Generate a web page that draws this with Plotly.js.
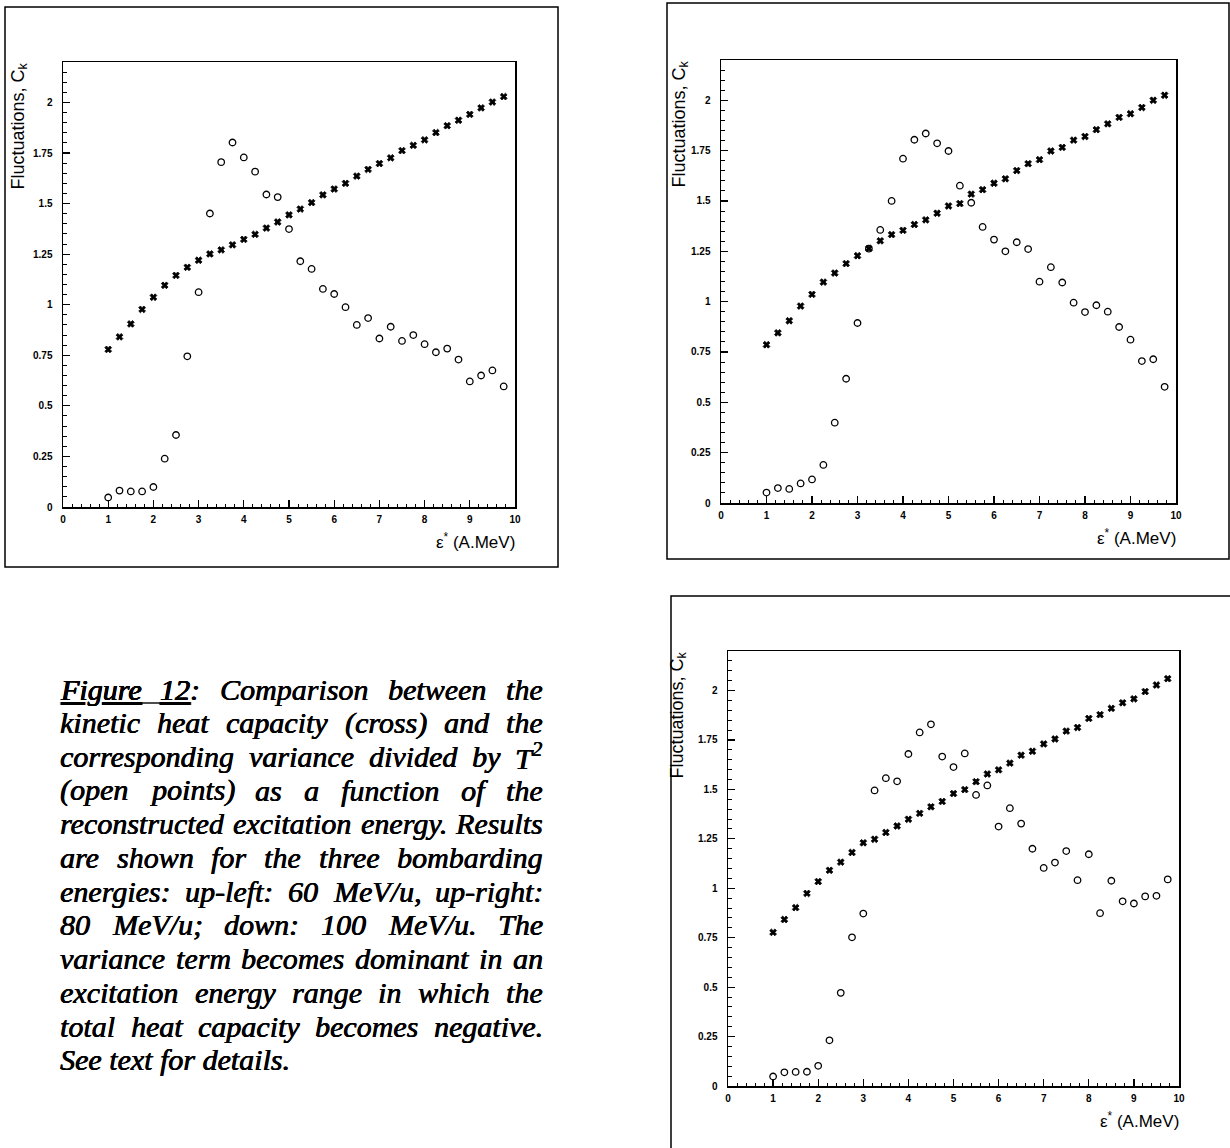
<!DOCTYPE html>
<html><head><meta charset="utf-8">
<script src="https://cdn.plot.ly/plotly-3.0.1.min.js"></script>
<style>html,body{margin:0;padding:0;background:#fff}</style>
</head><body><div id="chart" style="width:1230px;height:1148px"></div>
<script>
// ---- data ----
const energy = [1,1.25,1.5,1.75,2,2.25,2.5,2.75,3,3.25,3.5,3.75,4,4.25,4.5,4.75,5,5.25,5.5,5.75,6,6.25,6.5,6.75,7,7.25,7.5,7.75,8,8.25,8.5,8.75,9,9.25,9.5,9.75];

// 60 MeV/u (up-left)
const kinetic60  = [0.779,0.841,0.905,0.977,1.037,1.096,1.145,1.185,1.220,1.251,1.271,1.296,1.323,1.348,1.379,1.409,1.444,1.473,1.505,1.543,1.572,1.600,1.636,1.669,1.698,1.726,1.762,1.788,1.815,1.851,1.885,1.912,1.941,1.973,2.002,2.029];
const variance60 = [0.047,0.081,0.077,0.077,0.099,0.239,0.356,0.745,1.062,1.451,1.705,1.802,1.728,1.658,1.545,1.532,1.374,1.215,1.177,1.078,1.053,0.988,0.900,0.934,0.833,0.891,0.821,0.850,0.805,0.765,0.783,0.729,0.621,0.650,0.675,0.596];

// 80 MeV/u (up-right)
const kinetic80  = [0.786,0.845,0.905,0.978,1.036,1.097,1.142,1.189,1.228,1.264,1.302,1.333,1.354,1.383,1.406,1.439,1.475,1.487,1.534,1.556,1.588,1.610,1.651,1.685,1.705,1.748,1.766,1.802,1.820,1.854,1.883,1.915,1.933,1.964,2.000,2.025];
const variance80 = [0.052,0.074,0.070,0.097,0.117,0.189,0.399,0.617,0.894,1.263,1.356,1.500,1.710,1.804,1.835,1.786,1.748,1.576,1.491,1.371,1.308,1.250,1.295,1.261,1.099,1.171,1.095,0.995,0.948,0.982,0.950,0.874,0.811,0.705,0.714,0.577];

// 100 MeV/u (down)
const kinetic100  = [0.777,0.842,0.902,0.974,1.034,1.091,1.132,1.181,1.230,1.248,1.282,1.315,1.349,1.379,1.412,1.439,1.479,1.499,1.539,1.578,1.599,1.633,1.673,1.693,1.730,1.755,1.795,1.813,1.859,1.878,1.910,1.938,1.958,1.995,2.028,2.060];
const variance100 = [0.048,0.069,0.071,0.072,0.102,0.231,0.471,0.752,0.872,1.495,1.557,1.541,1.679,1.788,1.829,1.666,1.613,1.682,1.472,1.520,1.312,1.405,1.327,1.200,1.103,1.130,1.188,1.041,1.172,0.874,1.038,0.934,0.923,0.959,0.962,1.045];

const yTitle = 'Fluctuations, C<sub>k</sub>';
const xTitle = 'ε<sup>*</sup> (A.MeV)';

const captionLines = [
  '<u>Figure</u> <u>12</u>: Comparison between the',
  'kinetic heat capacity (cross) and the',
  'corresponding variance divided by T<sup>2</sup>',
  '(open points) as a function of the',
  'reconstructed excitation energy. Results',
  'are shown for the three bombarding',
  'energies: up-left: 60 MeV/u, up-right:',
  '80 MeV/u; down: 100 MeV/u. The',
  'variance term becomes dominant in an',
  'excitation energy range in which the',
  'total heat capacity becomes negative.',
  'See text for details.'
];

// ---- layout geometry ----
const W = 1230, H = 1148;
const fx = p => p / W, fy = p => 1 - p / H;

const panels = [
  {x0:63,  x1:515,  yb:507,  yt:62,  frame:[5,7,558,567],       ytx:19,  kin:kinetic60,  vr:variance60},
  {x0:721, x1:1176, yb:503,  yt:60,  frame:[667,3,1229,559],    ytx:680, kin:kinetic80,  vr:variance80},
  {x0:728, x1:1179, yb:1086, yt:651, frame:[671,596,1233,1152], ytx:678, kin:kinetic100, vr:variance100}
];

const tickFont = {family:'Liberation Sans, Arial, sans-serif', size:10, color:'#000', weight:'bold'};
const titleFont = {family:'Liberation Sans, Arial, sans-serif', size:17, color:'#000'};
const yTitleFont = {family:'Liberation Sans, Arial, sans-serif', size:18, color:'#000'};

const layout = {
  width: W, height: H,
  margin: {l:0, r:0, t:0, b:0},
  paper_bgcolor: '#fff', plot_bgcolor: '#fff',
  showlegend: false,
  shapes: [], annotations: []
};
const data = [];

panels.forEach((p, i) => {
  const n = i === 0 ? '' : String(i + 1);
  layout['xaxis' + n] = {
    domain: [fx(p.x0), fx(p.x1)], anchor: 'y' + n,
    range: [0, 10], tick0: 0, dtick: 1,
    ticks: 'inside', ticklen: 7, tickwidth: 1.2, tickcolor: '#000',
    showline: true, linecolor: '#000', linewidth: 1.5, mirror: true,
    showgrid: false, zeroline: false, tickfont: tickFont, fixedrange: true,
    ticklabelstandoff: 2,
    minor: {dtick: 0.2, tick0: 0, ticks: 'inside', ticklen: 3.5, tickwidth: 1, tickcolor: '#000', showgrid: false}
  };
  layout['yaxis' + n] = {
    domain: [fy(p.yb), fy(p.yt)], anchor: 'x' + n,
    range: [0, 2.2], tick0: 0, dtick: 0.25,
    ticks: 'inside', ticklen: 7, tickwidth: 1.2, tickcolor: '#000',
    showline: true, linecolor: '#000', linewidth: 1.5, mirror: true,
    showgrid: false, zeroline: false, tickfont: tickFont, fixedrange: true,
    ticklabelstandoff: 7,
    minor: {dtick: 0.05, tick0: 0, ticks: 'inside', ticklen: 3.5, tickwidth: 1, tickcolor: '#000', showgrid: false}
  };
  data.push({
    type: 'scatter', mode: 'markers', x: energy, y: p.kin,
    xaxis: 'x' + n, yaxis: 'y' + n, name: 'kinetic heat capacity',
    marker: {symbol: 'x', size: 6, color: '#000', line: {width: 0.8, color: '#000'}},
    cliponaxis: false
  });
  data.push({
    type: 'scatter', mode: 'markers', x: energy, y: p.vr,
    xaxis: 'x' + n, yaxis: 'y' + n, name: 'variance / T²',
    marker: {symbol: 'circle-open', size: 6.5, color: '#000', line: {width: 1.3, color: '#000'}},
    cliponaxis: false
  });
  const f = p.frame;
  layout.shapes.push({type:'rect', xref:'paper', yref:'paper',
    x0: fx(f[0]), x1: fx(f[2]), y0: fy(f[3]), y1: fy(f[1]),
    line: {color:'#000', width:1.5}, fillcolor:'rgba(0,0,0,0)', layer:'below'});
  layout.annotations.push({xref:'paper', yref:'paper', x: fx(p.ytx), y: fy(p.yt + 1),
    xanchor:'center', yanchor:'top', textangle:-90, text: yTitle, showarrow:false,
    font: yTitleFont, borderpad:0, borderwidth:0});
  layout.annotations.push({xref:'paper', yref:'paper', x: fx(p.x1), y: fy(p.yb + 34),
    xanchor:'right', yanchor:'middle', text: xTitle, showarrow:false,
    font: titleFont, borderpad:0, borderwidth:0});
});

// ---- justified caption ----
const capSize = 30;
const capFamily = 'Liberation Serif';
const capWeight = 'normal';
const capLeft = 60, capRight = 543, capBase0 = 698, capStep = 33.7;
const ctx = document.createElement('canvas').getContext('2d');
function measure(html) {
  let total = 0;
  html.split(/(<sup>.*?<\/sup>)/).forEach(part => {
    if (!part) return;
    const m = part.match(/^<sup>(.*)<\/sup>$/);
    if (m) { ctx.font = `italic ${capWeight} ${capSize * 0.7}px "${capFamily}"`; total += ctx.measureText(m[1]).width; }
    else { ctx.font = `italic ${capWeight} ${capSize}px "${capFamily}"`; total += ctx.measureText(part.replace(/<[^>]+>/g, '')).width; }
  });
  return total;
}
const capFont = {family: capFamily, size: capSize, color:'#000', style:'italic', weight: capWeight,
  shadow: '0.45px 0 0 #000, -0.2px 0 0 #000'};
captionLines.forEach((line, i) => {
  const yMid = fy(capBase0 + capStep * i - capSize * 0.3);
  const last = i === captionLines.length - 1;
  if (last) {
    layout.annotations.push({xref:'paper', yref:'paper', x: fx(capLeft), y: yMid, xanchor:'left', yanchor:'middle',
      text: line, showarrow:false, font: capFont, borderpad:0, borderwidth:0});
    return;
  }
  const words = line.split(' ');
  const widths = words.map(measure);
  const sum = widths.reduce((a, b) => a + b, 0);
  const gap = (capRight - capLeft - sum) / (words.length - 1);
  let cx = capLeft;
  if (i === 0) {
    // continuous underline across the gap between "Figure" and "12"
    const uy = capBase0 + 5;
    layout.shapes.push({type:'line', xref:'paper', yref:'paper',
      x0: fx(capLeft + widths[0] - 1), x1: fx(capLeft + widths[0] + gap + 1), y0: fy(uy), y1: fy(uy),
      line: {color:'#000', width:1.4}});
  }
  words.forEach((w, k) => {
    const isLast = k === words.length - 1;
    layout.annotations.push({xref:'paper', yref:'paper',
      x: fx(isLast ? capRight : cx), y: yMid, xanchor: isLast ? 'right' : 'left', yanchor:'middle',
      text: w, showarrow:false, font: capFont, borderpad:0, borderwidth:0});
    cx += widths[k] + gap;
  });
});

Plotly.newPlot('chart', data, layout, {staticPlot: true, displayModeBar: false});
</script>
</body></html>
